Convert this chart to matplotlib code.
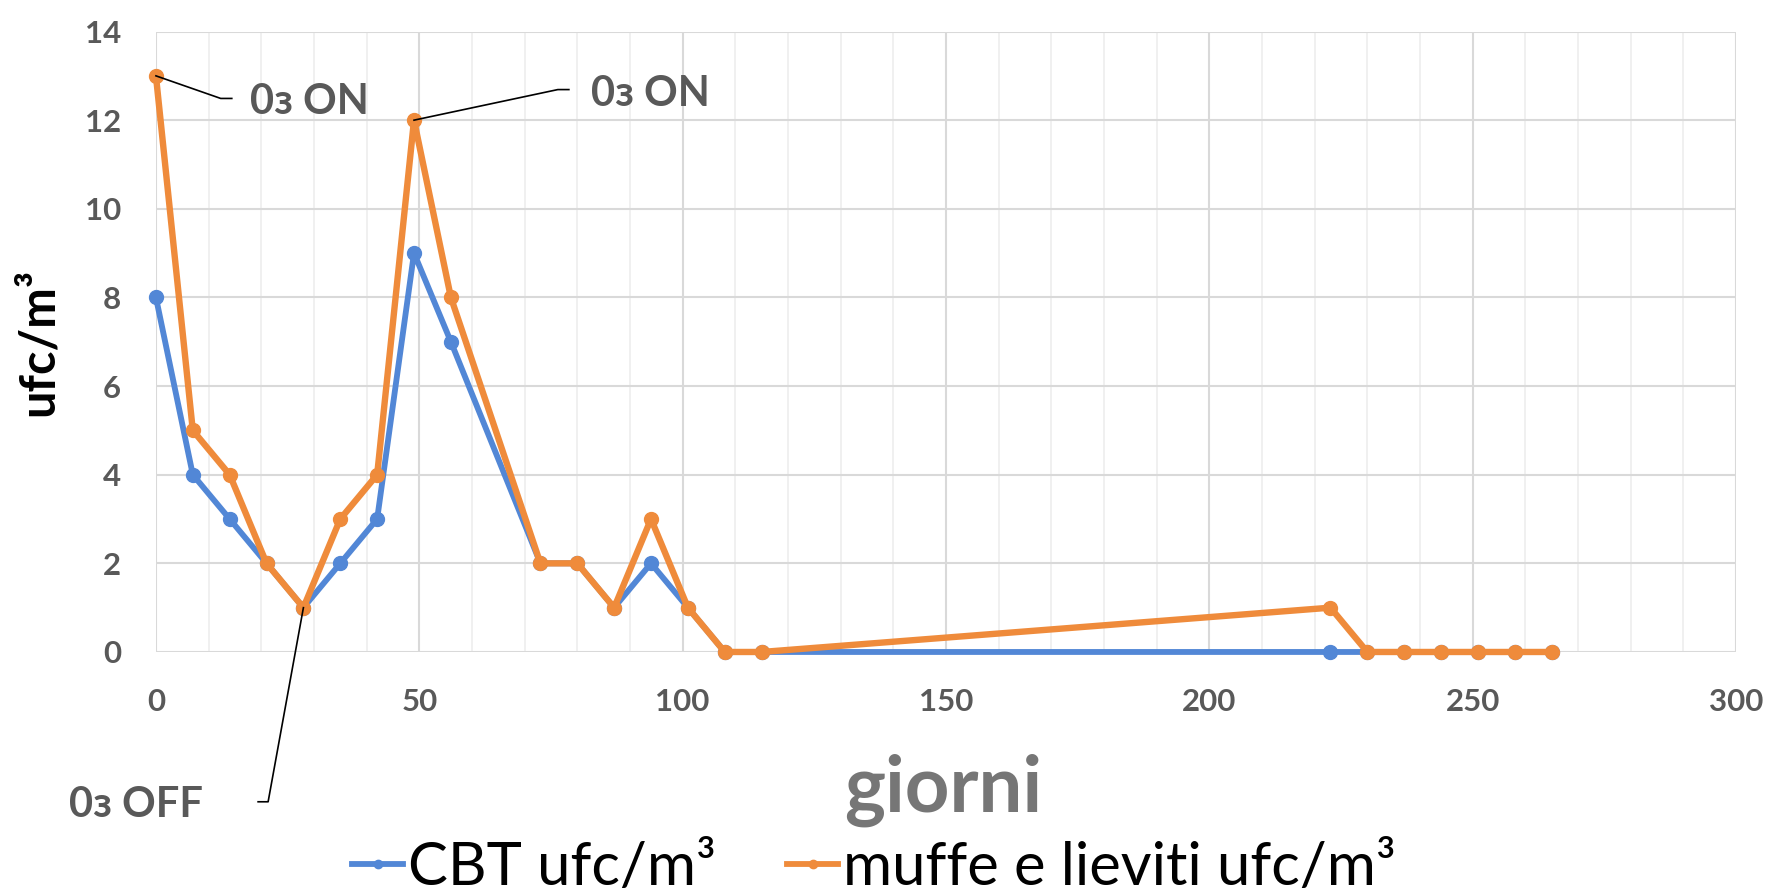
import matplotlib
matplotlib.use("Agg")
import matplotlib.pyplot as plt
from matplotlib.lines import Line2D

# ---- data ----
days = [0, 7, 14, 21, 28, 35, 42, 49, 56, 73, 80, 87, 94, 101, 108, 115,
        223, 230, 237, 244, 251, 258, 265]
cbt = [8, 4, 3, 2, 1, 2, 3, 9, 7, 2, 2, 1, 2, 1, 0, 0,
       0, 0, 0, 0, 0, 0, 0]
muffe = [13, 5, 4, 2, 1, 3, 4, 12, 8, 2, 2, 1, 3, 1, 0, 0,
         1, 0, 0, 0, 0, 0, 0]
series_labels = ["CBT ufc/m³", "muffe e lieviti ufc/m³"]
x_ticks = [0, 50, 100, 150, 200, 250, 300]
y_ticks = [0, 2, 4, 6, 8, 10, 12, 14]
x_label = "giorni"
y_label = "ufc/m³"
ann_on = "0з ON"
ann_off = "0з OFF"

FONT = ["Lato", "Open Sans", "DejaVu Sans"]
plt.rcParams["font.family"] = FONT

BLUE = "#5287D6"
ORANGE = "#EF8B3B"
TICKC = "#595959"

fig = plt.figure(figsize=(17.7, 8.93), dpi=100)
ax = fig.add_axes([0.0881, 0.2699, 0.8927, 0.6948])

ax.set_xlim(0, 300)
ax.set_ylim(0, 14)
ax.set_xticks(x_ticks)
ax.set_xticks(range(0, 301, 10), minor=True)
ax.set_yticks(y_ticks)
ax.grid(which="major", color="#D9D9D9", lw=1.5, zorder=0)
ax.grid(which="minor", axis="x", color="#EDEDED", lw=1.2, zorder=0)
ax.set_axisbelow(True)
for s in ax.spines.values():
    s.set_visible(False)
ax.tick_params(which="both", length=0)
ax.tick_params(axis="x", pad=26)
ax.tick_params(axis="y", pad=25)
for lab in ax.get_xticklabels() + ax.get_yticklabels():
    lab.set_fontsize(22.5)
    lab.set_fontweight("bold")
    lab.set_color(TICKC)

ax.plot(days, cbt, color=BLUE, lw=4.2, marker="o", ms=10, zorder=3,
        solid_joinstyle="round", label=series_labels[0], clip_on=False)
ax.plot(days, muffe, color=ORANGE, lw=4.6, marker="o", ms=10, zorder=4,
        solid_joinstyle="round", label=series_labels[1], clip_on=False)

# y label
ax.set_ylabel(y_label, fontsize=35, fontweight="bold", color="black", va="center")
ax.yaxis.set_label_coords(-0.0747, 0.5)

# x label
fig.text(943 / 1770, 1 - 812 / 893, x_label, ha="center", va="baseline",
         fontsize=56, fontweight="bold", color="#767676")

# annotations
akw = dict(fontsize=30, fontweight="bold", color=TICKC, ha="left", va="baseline",
           family=FONT)
lkw = dict(color="black", lw=1.2, clip_on=False, zorder=6)
ax.plot([days[0], 12.3, 14.4], [muffe[0], 12.49, 12.49], **lkw)
ax.text(17.8, 12.15, ann_on, **akw)
ax.plot([days[7], 76.3, 78.4], [muffe[7], 12.69, 12.69], **lkw)
ax.text(82.6, 12.33, ann_on, **akw)
ax.plot([days[4], 21.3, 19.4], [muffe[4], -3.38, -3.38], **lkw)
ax.text(-16.5, -3.72, ann_off, clip_on=False, **akw)

# legend
handles = [Line2D([], [], color=BLUE, lw=4.2, marker="o", ms=6),
           Line2D([], [], color=ORANGE, lw=4.2, marker="o", ms=6)]
fig.legend(handles, series_labels, loc="center", ncol=2,
           bbox_to_anchor=(874 / 1770, 1 - 868 / 893), frameon=False,
           fontsize=43, handlelength=0.85, handletextpad=0.08,
           columnspacing=1.2, borderpad=0, borderaxespad=0)

fig.savefig("out.png", dpi=100)
